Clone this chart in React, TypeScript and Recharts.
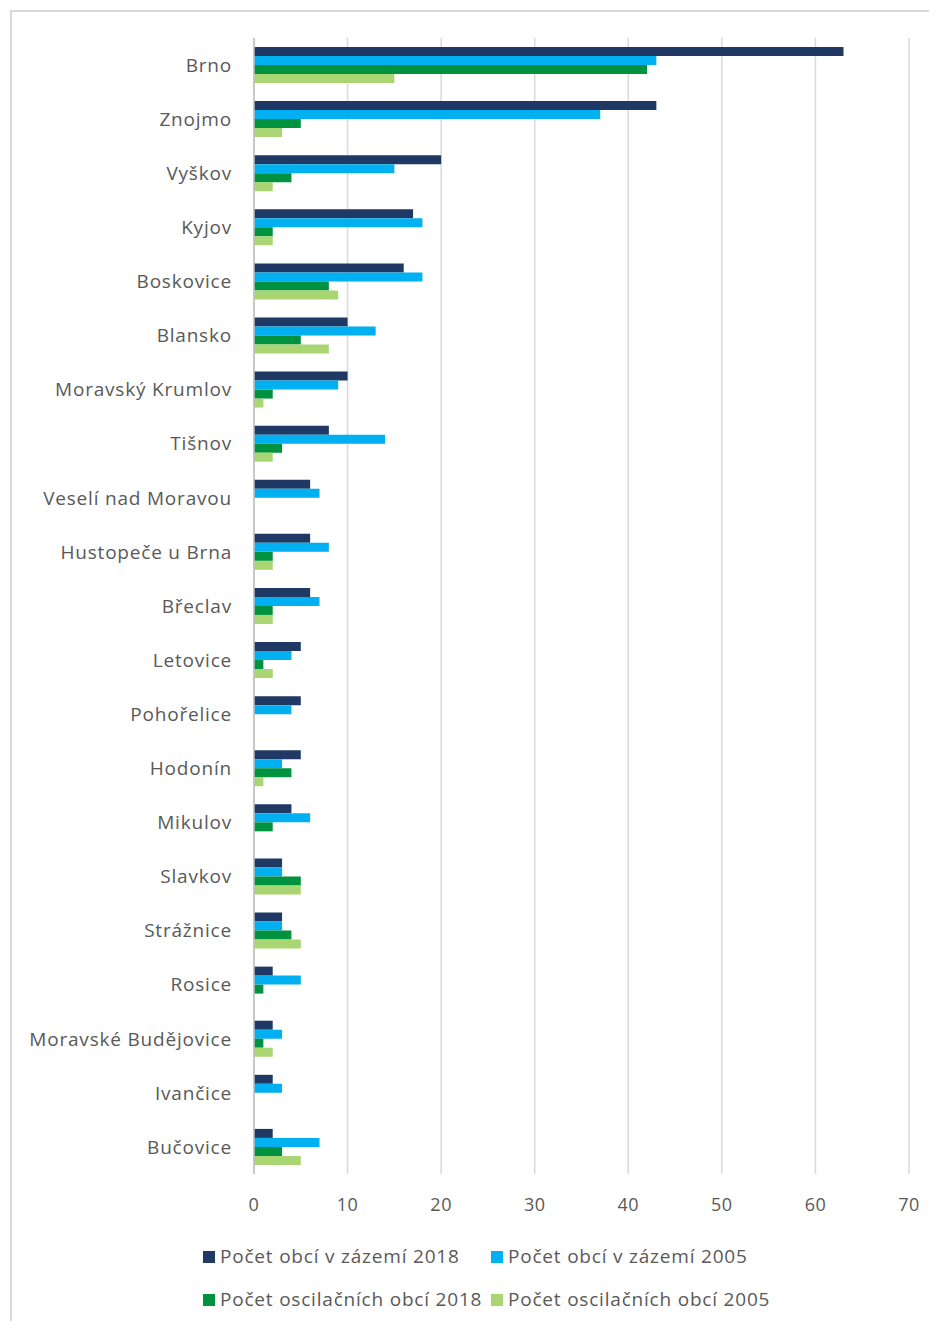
import React from 'react';
import { BarChart, Bar, XAxis, YAxis, CartesianGrid } from 'recharts';

const categories = [
  'Brno', 'Znojmo', 'Vyškov', 'Kyjov', 'Boskovice', 'Blansko', 'Moravský Krumlov', 'Tišnov',
  'Veselí nad Moravou', 'Hustopeče u Brna', 'Břeclav', 'Letovice', 'Pohořelice', 'Hodonín',
  'Mikulov', 'Slavkov', 'Strážnice', 'Rosice', 'Moravské Budějovice', 'Ivančice', 'Bučovice',
];
const zazemi2018 = [63, 43, 20, 17, 16, 10, 10, 8, 6, 6, 6, 5, 5, 5, 4, 3, 3, 2, 2, 2, 2];
const zazemi2005 = [43, 37, 15, 18, 18, 13, 9, 14, 7, 8, 7, 4, 4, 3, 6, 3, 3, 5, 3, 3, 7];
const osc2018 = [42, 5, 4, 2, 8, 5, 2, 3, 0, 2, 2, 1, 0, 4, 2, 5, 4, 1, 1, 0, 3];
const osc2005 = [15, 3, 2, 2, 9, 8, 1, 2, 0, 2, 2, 2, 0, 1, 0, 5, 5, 0, 2, 0, 5];
const xTicks = [0, 10, 20, 30, 40, 50, 60, 70];

const seriesNames = [
  'Počet obcí v zázemí 2018',
  'Počet obcí v zázemí 2005',
  'Počet oscilačních obcí 2018',
  'Počet oscilačních obcí 2005',
];
const seriesColors = ['#1F3864', '#00B0F0', '#00923F', '#A9D672'];

const data = categories.map((name, i) => ({
  name,
  z18: zazemi2018[i],
  z05: zazemi2005[i],
  o18: osc2018[i],
  o05: osc2005[i],
}));
const keys = ['z18', 'z05', 'o18', 'o05'];

const FONT = '"Open Sans", Lato, sans-serif';
const TEXT = '#595959';

function LegendItem({ idx }: { idx: number }) {
  return (
    <div style={{ display: 'flex', alignItems: 'center', whiteSpace: 'nowrap' }}>
      <span style={{ width: 12, height: 12, background: seriesColors[idx], display: 'inline-block', marginRight: 5 }} />
      <span>{seriesNames[idx]}</span>
    </div>
  );
}

export default function App() {
  return (
    <div style={{ position: 'relative', width: 921, height: 1313, fontFamily: FONT, overflow: 'hidden' }}>
      <div style={{ position: 'absolute', left: 2, top: 2, width: 940, height: 1400, borderLeft: '2px solid #d9d9d9', borderTop: '2px solid #d9d9d9' }} />
      <div style={{ position: 'absolute', left: 0, top: 0 }}>
        <BarChart
          width={921}
          height={1230}
          data={data}
          layout="vertical"
          margin={{ top: 30, right: 20, bottom: 0, left: 0 }}
          barGap={0}
        >
          <CartesianGrid horizontal={false} vertical={true} stroke="#d9d9d9" strokeWidth={1.5} />
          <XAxis
            type="number"
            domain={[0, 70]}
            ticks={xTicks}
            axisLine={false}
            tickLine={false}
            tickSize={0}
            tickMargin={24}
            height={64}
            tick={{ fill: TEXT, fontSize: 18, fontFamily: FONT, letterSpacing: 0.5 }}
          />
          <YAxis
            type="category"
            dataKey="name"
            width={246}
            axisLine={{ stroke: '#bfbfbf', strokeWidth: 1.5 }}
            tickLine={false}
            tickSize={0}
            tickMargin={22}
            interval={0}
            tick={{ fill: TEXT, fontSize: 19, fontFamily: FONT, letterSpacing: 0.8 }}
          />
          {keys.map((k, i) => (
            <Bar key={k} dataKey={k} name={seriesNames[i]} fill={seriesColors[i]} barSize={9} isAnimationActive={false} />
          ))}
        </BarChart>
      </div>
      <div style={{ position: 'absolute', left: 195, top: 1235, color: TEXT, fontSize: 19, letterSpacing: 0.8, display: 'grid', gridTemplateColumns: '288px auto', rowGap: 16, lineHeight: '27px' }}>
        <LegendItem idx={0} />
        <LegendItem idx={1} />
        <LegendItem idx={2} />
        <LegendItem idx={3} />
      </div>
    </div>
  );
}
